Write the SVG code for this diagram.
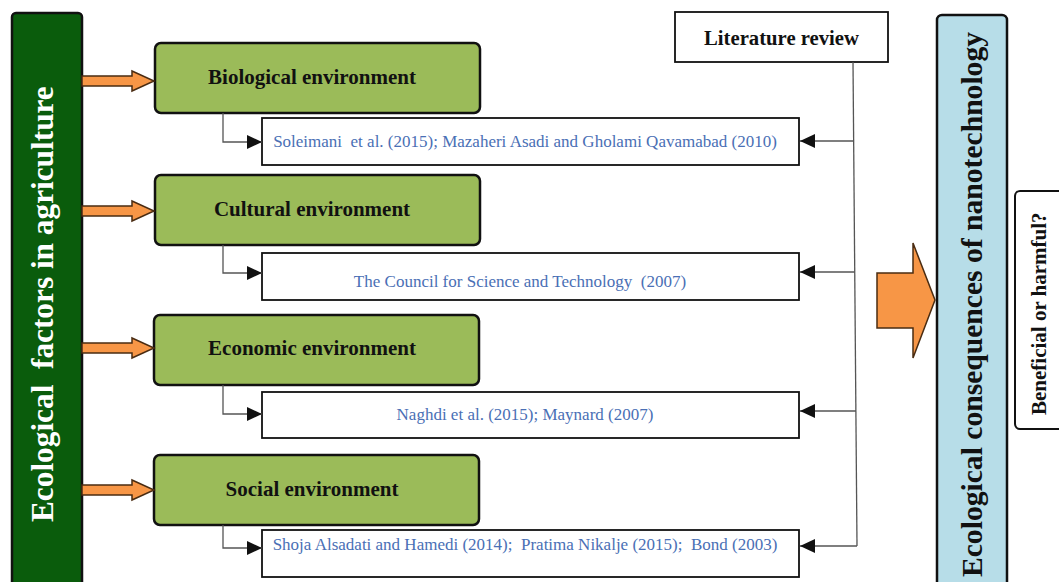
<svg xmlns="http://www.w3.org/2000/svg" width="1059" height="582" viewBox="0 0 1059 582">
<style>
.bar{stroke:#111;stroke-width:2.5}
.env{fill:#9bbb59;stroke:#111;stroke-width:2.5}
.ref{fill:#fff;stroke:#111;stroke-width:1.8}
.oarrow{fill:#f79646;stroke:#4a2c12;stroke-width:1.5;stroke-linejoin:miter}
.conn{fill:none;stroke:#555;stroke-width:1.3}
.lbl{font-family:"Liberation Serif","Times New Roman",serif;font-weight:bold;fill:#111}
.reft{font-family:"Liberation Serif","Times New Roman",serif;font-size:17px;fill:#4a6fb5;text-anchor:middle}
</style>
<defs>
<marker id="ah" markerWidth="15" markerHeight="14" refX="15" refY="7" orient="auto" markerUnits="userSpaceOnUse">
<path d="M0,0 L15,7 L0,14 Z" fill="#111"/>
</marker>
</defs>

<g id="factors">
<rect class="bar" x="12" y="13" width="70" height="600" rx="4" fill="#0a5c0c"/>
<text class="lbl" transform="translate(53,522) rotate(-90)" font-size="31.3" style="fill:#fff" xml:space="preserve">Ecological  factors in agriculture</text>
</g>

<g id="consequences">
<rect class="bar" x="937" y="15" width="70" height="600" rx="5" fill="#b7dde8"/>
<text class="lbl" transform="translate(982,577) rotate(-90)" font-size="29.6">Ecological consequences of nanotechnology</text>
</g>

<g id="beneficial">
<rect x="1015" y="191" width="80" height="238" rx="5" fill="#fff" stroke="#111" stroke-width="2"/>
<text class="lbl" transform="translate(1046,415) rotate(-90)" font-size="21">Beneficial or harmful?</text>
</g>

<g id="literature">
<rect x="675" y="12" width="213" height="50" fill="#fff" stroke="#111" stroke-width="1.8"/>
<text class="lbl" x="781.5" y="45" font-size="20.7" text-anchor="middle">Literature review</text>
</g>

<g id="biological">
<rect class="env" x="155" y="43" width="325" height="70" rx="6"/>
<text class="lbl" x="312" y="84" font-size="21" text-anchor="middle">Biological environment</text>
</g>
<g id="cultural">
<rect class="env" x="155" y="175" width="325" height="70" rx="6"/>
<text class="lbl" x="312" y="216" font-size="21" text-anchor="middle">Cultural environment</text>
</g>
<g id="economic">
<rect class="env" x="154" y="315" width="325" height="70" rx="6"/>
<text class="lbl" x="312" y="355" font-size="21" text-anchor="middle">Economic environment</text>
</g>
<g id="social">
<rect class="env" x="154" y="455" width="325" height="70" rx="6"/>
<text class="lbl" x="312" y="496" font-size="21" text-anchor="middle">Social environment</text>
</g>

<g id="ref-biological">
<rect class="ref" x="262" y="118" width="537" height="47"/>
<text class="reft" x="525" y="147" xml:space="preserve">Soleimani  et al. (2015); Mazaheri Asadi and Gholami Qavamabad (2010)</text>
</g>
<g id="ref-cultural">
<rect class="ref" x="262" y="253" width="537" height="47"/>
<text class="reft" x="520" y="287" xml:space="preserve">The Council for Science and Technology  (2007)</text>
</g>
<g id="ref-economic">
<rect class="ref" x="262" y="392" width="537" height="46"/>
<text class="reft" x="525" y="420">Naghdi et al. (2015); Maynard (2007)</text>
</g>
<g id="ref-social">
<rect class="ref" x="262" y="530" width="537" height="47"/>
<text class="reft" x="525" y="550" xml:space="preserve">Shoja Alsadati and Hamedi (2014);  Pratima Nikalje (2015);  Bond (2003)</text>
</g>

<g id="connectors">
<polygon class="oarrow" points="82,76 132,76 132,71 154,81 132,91 132,86 82,86"/>
<polygon class="oarrow" points="82,206 132,206 132,201 154,211 132,221 132,216 82,216"/>
<polygon class="oarrow" points="82,343 132,343 132,338 154,348 132,358 132,353 82,353"/>
<polygon class="oarrow" points="82,485 132,485 132,480 154,490 132,500 132,495 82,495"/>
<polygon class="oarrow" stroke-width="2" points="877,273 913,273 913,243 935,300 913,358 913,328 877,328"/>

<path class="conn" d="M223,113 V142 H262" marker-end="url(#ah)"/>
<path class="conn" d="M223,245 V273 H262" marker-end="url(#ah)"/>
<path class="conn" d="M223,385 V414 H262" marker-end="url(#ah)"/>
<path class="conn" d="M223,525 V548 H262" marker-end="url(#ah)"/>

<path class="conn" d="M853,62 L857,546"/>
<path class="conn" d="M853,141 H800" marker-end="url(#ah)"/>
<path class="conn" d="M854.5,272 H800" marker-end="url(#ah)"/>
<path class="conn" d="M856,411 H800" marker-end="url(#ah)"/>
<path class="conn" d="M857,546 H800" marker-end="url(#ah)"/>
</g>
</svg>
